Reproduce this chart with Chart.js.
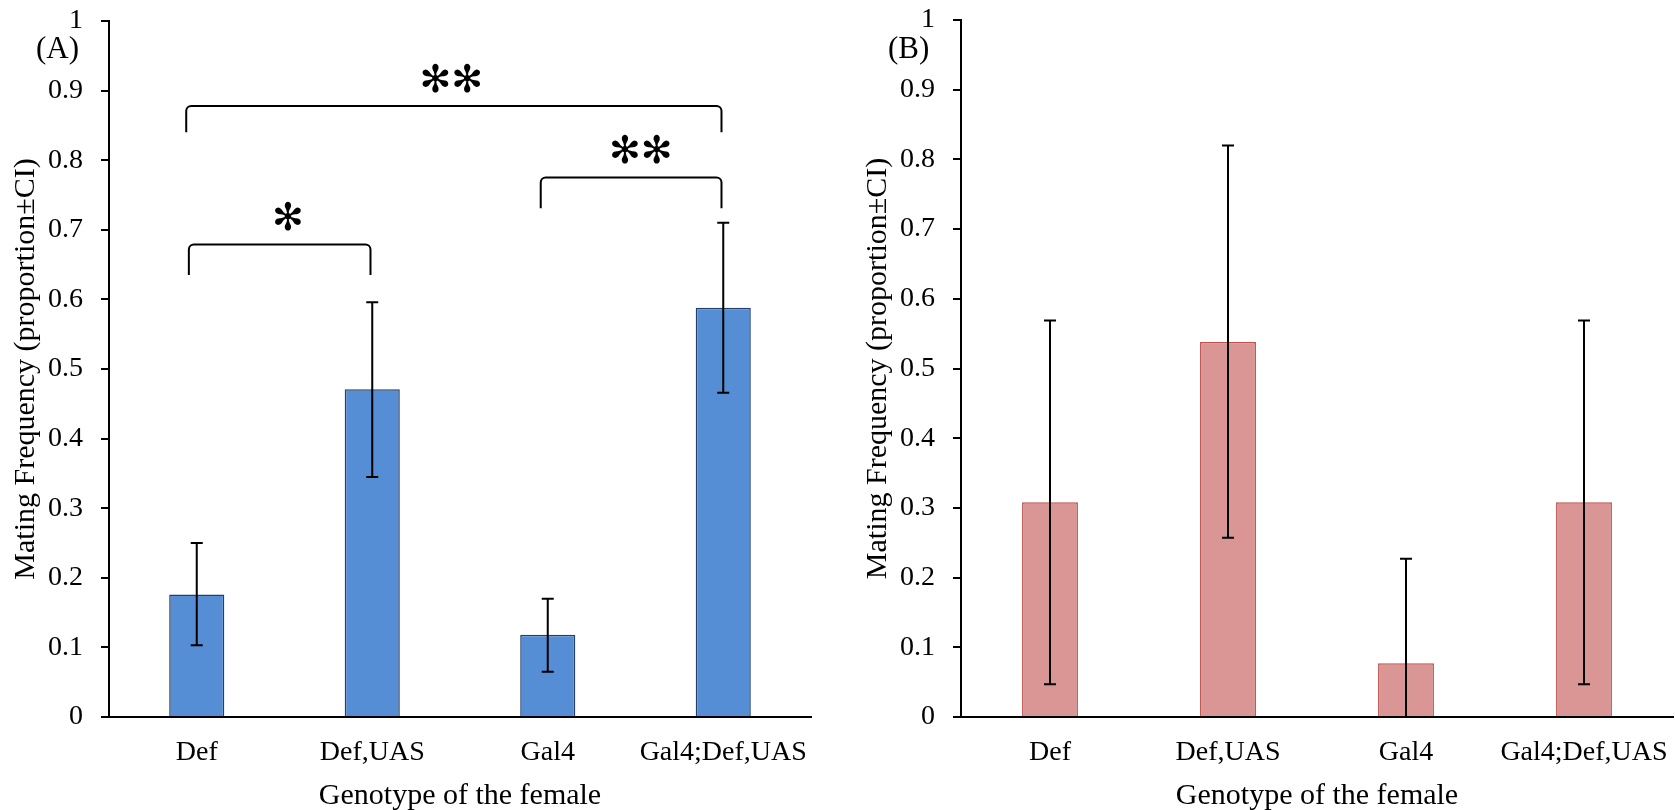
<!DOCTYPE html>
<html lang="en">
<head>
  <meta charset="UTF-8">
  <title>Mating Frequency by Genotype</title>
  <script src="https://cdn.jsdelivr.net/npm/chart.js"></script>
  <style>
    html, body { margin: 0; padding: 0; background: #fff; }
    body { width: 1675px; height: 810px; position: relative; overflow: hidden; }
    canvas { position: absolute; top: 0; }
    #chartA { left: 0; }
    #chartB { left: 852px; }
  </style>
</head>
<body>
  <canvas id="chartA" width="852" height="810"></canvas>
  <canvas id="chartB" width="823" height="810"></canvas>

  <script>
    const genotypes = ['Def', 'Def,UAS', 'Gal4', 'Gal4;Def,UAS'];

    // panel A
    const matingA = [0.176, 0.471, 0.118, 0.588];
    const ciLowA = [0.103, 0.345, 0.065, 0.466];
    const ciHighA = [0.250, 0.596, 0.170, 0.710];

    // panel B
    const matingB = [0.308, 0.538, 0.077, 0.308];
    const ciLowB = [0.047, 0.257, 0.000, 0.047];
    const ciHighB = [0.569, 0.820, 0.227, 0.569];

    // significance brackets (panel A), x in category units
    const sigFrom = [-0.06, 1.96, -0.045];
    const sigTo = [2.99, 2.99, 0.99];
    const sigTop = [0.878, 0.775, 0.679];
    const sigLeg = [0.840, 0.731, 0.635];
    const sigMarkAt = [1.45, 2.53, 0.52];
    const sigMarks = ['✻✻', '✻✻', '✻'];

    Chart.defaults.font.family = '"Liberation Serif", "Times New Roman", serif';
    Chart.defaults.color = '#000';

    function errorBars(low, high) {
      return {
        id: 'errorBars',
        afterDatasetsDraw(chart) {
          const { ctx, scales: { x, y } } = chart;
          ctx.save();
          ctx.strokeStyle = '#000';
          ctx.lineWidth = 2;
          low.forEach((lo, i) => {
            const px = x.getPixelForValue(i);
            const top = y.getPixelForValue(high[i]);
            const bot = y.getPixelForValue(lo);
            ctx.beginPath();
            ctx.moveTo(px, top); ctx.lineTo(px, bot);
            ctx.moveTo(px - 6, top); ctx.lineTo(px + 6, top);
            ctx.moveTo(px - 6, bot); ctx.lineTo(px + 6, bot);
            ctx.stroke();
          });
          ctx.restore();
        }
      };
    }

    function panelLabel(text) {
      return {
        id: 'panelLabel',
        afterDraw(chart) {
          const { ctx, chartArea } = chart;
          ctx.save();
          ctx.font = '31px "Liberation Serif"';
          ctx.fillStyle = '#000';
          ctx.textAlign = 'left';
          ctx.textBaseline = 'alphabetic';
          ctx.fillText(text, chartArea.left - 73, 58);
          ctx.restore();
        }
      };
    }

    const brackets = {
      id: 'brackets',
      afterDraw(chart) {
        const { ctx, scales: { x, y } } = chart;
        ctx.save();
        ctx.strokeStyle = '#000';
        ctx.fillStyle = '#000';
        ctx.lineWidth = 2;
        sigFrom.forEach((from, i) => {
          const x1 = x.getPixelForValue(from);
          const x2 = x.getPixelForValue(sigTo[i]);
          const yt = y.getPixelForValue(sigTop[i]);
          const yb = y.getPixelForValue(sigLeg[i]);
          ctx.beginPath();
          ctx.moveTo(x1, yb);
          ctx.arcTo(x1, yt, x2, yt, 5);
          ctx.arcTo(x2, yt, x2, yb, 5);
          ctx.lineTo(x2, yb);
          ctx.stroke();
          ctx.font = '38px "DejaVu Sans"';
          ctx.textAlign = 'center';
          ctx.textBaseline = 'middle';
          ctx.fillText(sigMarks[i], x.getPixelForValue(sigMarkAt[i]), yt - 24);
        });
        ctx.restore();
      }
    };

    function makeChart(id, values, low, high, fill, border, topPad, rightPad, label, extra) {
      return new Chart(document.getElementById(id), {
        type: 'bar',
        data: {
          labels: genotypes,
          datasets: [{
            data: values,
            backgroundColor: fill,
            borderColor: border,
            borderWidth: 1.5,
            barPercentage: 0.314,
            categoryPercentage: 1
          }]
        },
        options: {
          responsive: false,
          animation: false,
          layout: { padding: { top: topPad, right: rightPad, left: 0, bottom: 0 } },
          plugins: { legend: { display: false }, tooltip: { enabled: false } },
          scales: {
            x: {
              grid: { display: false, drawTicks: false },
              border: { color: '#000', width: 2 },
              ticks: { font: { size: 28 }, padding: 19, maxRotation: 0, autoSkip: false },
              title: {
                display: true, text: 'Genotype of the female',
                font: { size: 30, lineHeight: 0.93 }, padding: { top: 0, bottom: 0 }
              },
              afterFit(s) { s.height = 93; s.paddingLeft = 0; s.paddingRight = 0; }
            },
            y: {
              min: 0, max: 1,
              grid: { drawOnChartArea: false, color: '#000', lineWidth: 2, tickLength: 8 },
              border: { color: '#000', width: 2 },
              ticks: {
                stepSize: 0.1, font: { size: 28 }, padding: 18,
                callback: v => String(Math.round(v * 10) / 10)
              },
              title: {
                display: true, text: 'Mating Frequency (proportion±CI)',
                font: { size: 30 }, padding: { top: 8, bottom: 0 }
              },
              afterFit(s) { s.width = 109; s.paddingTop = 0; s.paddingBottom = 0; }
            }
          }
        },
        plugins: [errorBars(low, high), panelLabel(label)].concat(extra)
      });
    }

    makeChart('chartA', matingA, ciLowA, ciHighA, '#558ED5', '#24406A', 21, 41, '(A)', [brackets]);
    makeChart('chartB', matingB, ciLowB, ciHighB, '#D99694', '#C0504D', 20, 2, '(B)', []);
  </script>
</body>
</html>
